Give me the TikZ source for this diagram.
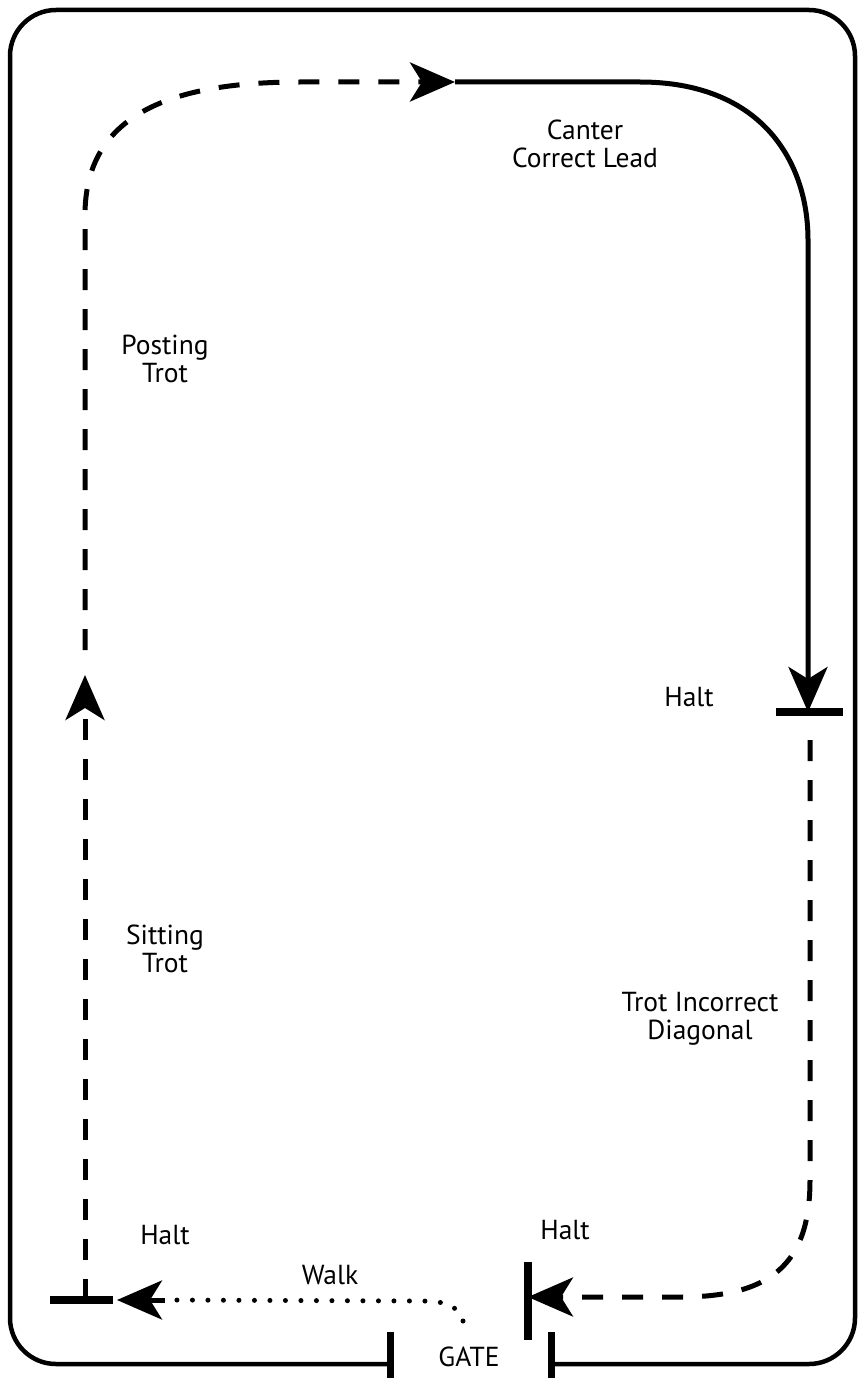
\documentclass[tikz,border=0pt]{standalone}
\usepackage{fontspec}
\setmainfont{PT Sans}
\usetikzlibrary{arrows.meta}
\begin{document}
\begin{tikzpicture}[x=1pt,y=-1pt,
  lbl/.style={font=\fontsize{27.5}{28}\selectfont, align=center, inner sep=0pt},
  pathline/.style={line width=5pt},
  dashline/.style={pathline, dash pattern=on 21pt off 19pt},
  dotline/.style={line width=5pt, line cap=round, dash pattern=on 0pt off 15.5pt},
  head/.style={-{Stealth[length=45pt,width=39pt,inset=12pt]}},
  haltbar/.style={line width=8pt},
  border/.style={line width=4.5pt, rounded corners=46pt}
]
\useasboundingbox (0,0) rectangle (861,1378);
% coordinates
\coordinate (gL) at (390,1364);
\coordinate (gR) at (551,1364);
\coordinate (topArrow) at (455,82);
\coordinate (haltR) at (808,712);
\coordinate (haltB) at (528,1297);
\coordinate (haltL) at (85,1300);
\coordinate (walkEnd) at (117,1300);
\coordinate (upArrow) at (85,675);
% border with gate gap
\draw[border] (gL) -- (10,1364) -- (10,10) -- (855,10) -- (855,1364) -- (gR);
% gate posts
\draw[line width=7pt] (390,1332) -- (390,1378);
\draw[line width=7pt] (551,1332) -- (551,1378);
% halt bars
\draw[haltbar] (776,712) -- (843,712);
\draw[haltbar] (528,1262) -- (528,1340);
\draw[haltbar] (50,1300) -- (113,1300);
% sitting trot up
\draw[dashline, head] (haltL) -- (upArrow);
% posting trot to top
\draw[dashline, head] (85,650) -- (85,215) .. controls (85,115) and (170,82) .. (300,82) -- (topArrow);
% canter
\draw[pathline, head] (topArrow) -- (640,82) .. controls (760,82) and (808,160) .. (808,240) -- (haltR);
% trot incorrect diagonal
\draw[dashline, head] (810,740) -- (810,1180) .. controls (810,1265) and (770,1297) .. (680,1297) -- (haltB);
% walk
\draw[dotline] (463,1321) .. controls (458,1305) and (445,1301) .. (420,1301) -- (165,1300);
\draw[pathline, head] (165,1300) -- (walkEnd);
% labels
\node[lbl] (canter) at (585,144) {Canter\\Correct Lead};
\node[lbl] (posting) at (165,359) {Posting\\Trot};
\node[lbl] (haltRt) at (689,697) {Halt};
\node[lbl] (sitting) at (165,949) {Sitting\\Trot};
\node[lbl] (diag) at (700,1019) {Trot Incorrect\\Diagonal};
\node[lbl] (haltLt) at (165,1235) {Halt};
\node[lbl] (haltBt) at (565,1230) {Halt};
\node[lbl] (walk) at (330,1275) {Walk};
\node[lbl] (gate) at (469,1357) {GATE};
\end{tikzpicture}
\end{document}
